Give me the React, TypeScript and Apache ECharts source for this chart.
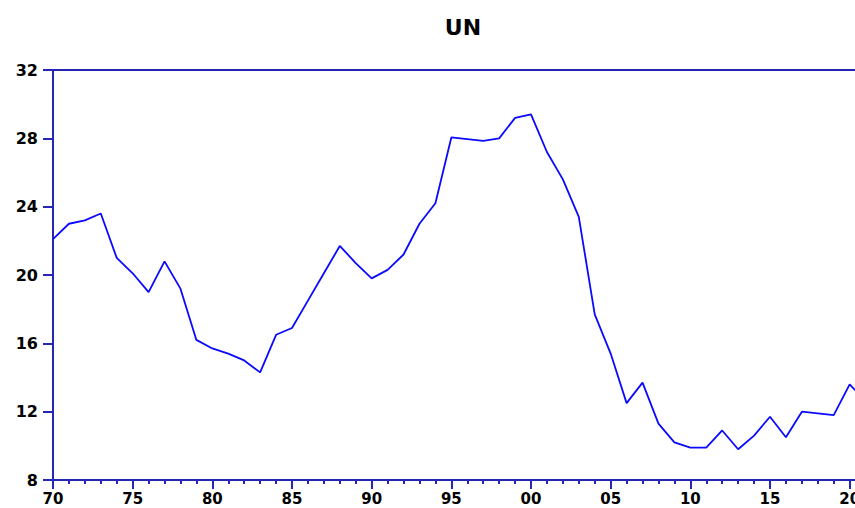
import React, { useEffect, useRef } from "react";
import * as echarts from "echarts";

const years: number[] = [
  1970, 1971, 1972, 1973, 1974, 1975, 1976, 1977, 1978, 1979,
  1980, 1981, 1982, 1983, 1984, 1985, 1986, 1987, 1988, 1989,
  1990, 1991, 1992, 1993, 1994, 1995, 1996, 1997, 1998, 1999,
  2000, 2001, 2002, 2003, 2004, 2005, 2006, 2007, 2008, 2009,
  2010, 2011, 2012, 2013, 2014, 2015, 2016, 2017, 2018, 2019,
  2020, 2021,
];

const unValues: number[] = [
  22.1, 23.0, 23.2, 23.6, 21.0, 20.1, 19.0, 20.8, 19.2, 16.2,
  15.7, 15.4, 15.0, 14.3, 16.5, 16.9, 18.5, 20.1, 21.7, 20.7,
  19.8, 20.3, 21.2, 23.0, 24.2, 28.05, 27.95, 27.85, 28.0, 29.2,
  29.4, 27.2, 25.6, 23.4, 17.7, 15.4, 12.5, 13.7, 11.3, 10.2,
  9.9, 9.9, 10.9, 9.8, 10.6, 11.7, 10.5, 12.0, 11.9, 11.8,
  13.6, 12.6,
];

const title = "UN";
const yMin = 8;
const yMax = 32;
const yStep = 4;
const xMin = 1970;
const xMax = 2021;
const xStep = 5;

const AXIS_COLOR = "#2626b4";
const LINE_COLOR = "#0a0aff";
const FONT = "'DejaVu Sans', Verdana, sans-serif";

export default function App() {
  const ref = useRef<HTMLDivElement>(null);

  useEffect(() => {
    if (!ref.current) return;
    const chart = echarts.init(ref.current, undefined, { renderer: "svg" });
    const data = years.map((y, i) => [y, unValues[i]]);
    chart.setOption({
      animation: false,
      backgroundColor: "#ffffff",
      title: {
        text: title,
        left: 458,
        top: 11,
        textAlign: "center",
        textStyle: {
          fontFamily: FONT,
          fontWeight: "bold",
          fontSize: 22,
          color: "#000000",
        },
      },
      grid: {
        left: 53,
        top: 70,
        width: 812.6,
        height: 410,
        outerBoundsMode: "none",
        containLabel: false,
        show: true,
        borderColor: AXIS_COLOR,
        borderWidth: 2,
        backgroundColor: "transparent",
      },
      xAxis: {
        type: "value",
        min: xMin,
        max: xMax,
        interval: xStep,
        splitLine: { show: false },
        axisLine: { show: true, lineStyle: { color: AXIS_COLOR, width: 2 } },
        axisTick: {
          show: true,
          length: 9,
          lineStyle: { color: AXIS_COLOR, width: 2 },
        },
        minorTick: {
          show: true,
          splitNumber: 5,
          length: 4,
          lineStyle: { color: AXIS_COLOR, width: 2 },
        },
        axisLabel: {
          margin: 11,
          color: "#000000",
          fontFamily: FONT,
          fontWeight: "bold",
          fontSize: 15,
          lineHeight: 15,
          showMaxLabel: false,
          formatter: (v: number) => String(v).slice(2),
        },
      },
      yAxis: {
        type: "value",
        min: yMin,
        max: yMax,
        interval: yStep,
        splitLine: { show: false },
        axisLine: { show: true, lineStyle: { color: AXIS_COLOR, width: 2 } },
        axisTick: {
          show: true,
          length: 10,
          lineStyle: { color: AXIS_COLOR, width: 2 },
        },
        axisLabel: {
          margin: 15,
          color: "#000000",
          fontFamily: FONT,
          fontWeight: "bold",
          fontSize: 16,
        },
      },
      series: [
        {
          type: "line",
          data,
          showSymbol: false,
          symbol: "none",
          lineStyle: { color: LINE_COLOR, width: 1.8 },
        },
      ],
    });
    return () => chart.dispose();
  }, []);

  return (
    <div
      ref={ref}
      style={{ position: "absolute", left: 0, top: 0, width: 855, height: 508 }}
    />
  );
}
